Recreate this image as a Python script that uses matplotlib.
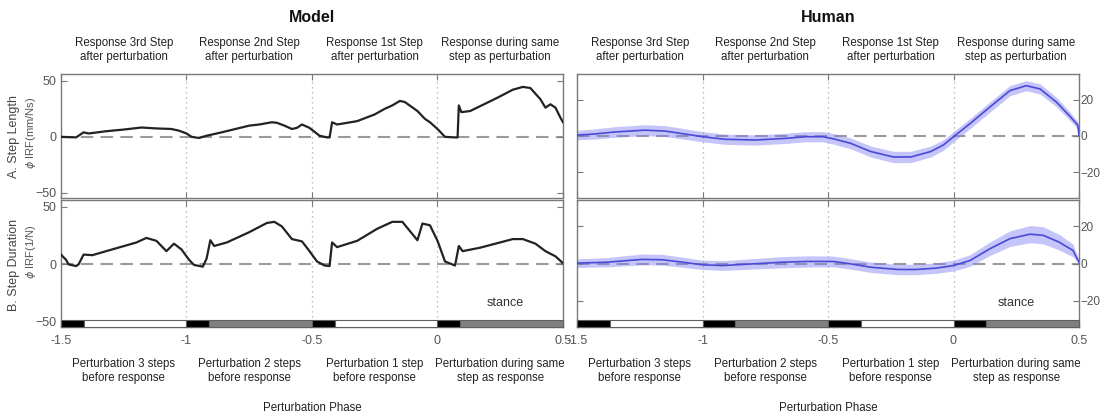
import numpy as np
import matplotlib
matplotlib.use("Agg")
import matplotlib.pyplot as plt
import matplotlib.transforms as mtransforms

plt.rcParams['font.family'] = ['Liberation Sans', 'DejaVu Sans']

# Model, A. Step Length
model_len_x = [-1.5, -1.44, -1.41, -1.39, -1.32, -1.25, -1.18, -1.12, -1.06, -1.03, -1.0, -0.98,
               -0.95, -0.92, -0.86, -0.75, -0.71, -0.66, -0.64, -0.61, -0.58, -0.56, -0.54,
               -0.51, -0.49, -0.47, -0.44, -0.43, -0.42, -0.40, -0.32, -0.25, -0.21, -0.18,
               -0.15, -0.13, -0.08, -0.05, -0.03, 0.0, 0.03, 0.07, 0.08, 0.085, 0.095, 0.13,
               0.24, 0.30, 0.34, 0.37, 0.41, 0.43, 0.45, 0.47, 0.49, 0.5]
model_len_y = [0, -0.5, 4, 3, 5, 6.5, 8.3, 7.5, 7, 5.5, 3, 0,
               -1, 1, 4, 10, 11, 13, 12.5, 10, 7, 8, 11,
               8, 4.5, 1, -0.5, -0.5, 13, 11, 14, 20, 25, 28,
               32, 31, 23, 16, 13, 7, 0, -0.5, -0.5, 28, 22, 23,
               35, 42, 44.5, 43.5, 33.5, 26, 29, 26, 17, 13]

# Model, B. Step Duration
model_dur_x = [-1.5, -1.48, -1.47, -1.44, -1.43, -1.41, -1.375, -1.32, -1.2, -1.16, -1.12, -1.08,
               -1.05, -1.02, -0.99, -0.97, -0.935, -0.92, -0.905, -0.89, -0.84, -0.75, -0.68,
               -0.65, -0.62, -0.58, -0.54, -0.51, -0.48, -0.45, -0.43, -0.42, -0.40, -0.32,
               -0.24, -0.18, -0.14, -0.08, -0.06, -0.03, 0.0, 0.03, 0.07, 0.085, 0.10, 0.17,
               0.30, 0.34, 0.39, 0.43, 0.47, 0.5]
model_dur_y = [8.5, 4, 0, -1.5, 0, 8.5, 8, 11.5, 19, 23, 20.5, 11.5,
               18, 13, 4, -0.5, -2, 5, 21, 16, 19, 28, 36,
               37, 33, 22, 20, 11.5, 2.5, -1, -1.5, 19, 15, 20.5,
               31, 37, 37, 21, 35.5, 34, 20.5, 2.5, -1, 16, 11.5, 14.5,
               22, 22, 18, 11.5, 7, 1]

# Human, A. Step Length (mean and band half width)
human_len_x = [-1.5, -1.43, -1.35, -1.23, -1.15, -1.07, -1.0, -0.91, -0.79, -0.67, -0.59, -0.52,
               -0.48, -0.41, -0.33, -0.24, -0.17, -0.09, -0.04, 0.0, 0.066, 0.145, 0.225, 0.29,
               0.345, 0.41, 0.46, 0.495, 0.5]
human_len_y = [0.5, 1.1, 2.2, 3.2, 2.7, 1.1, -0.4, -1.8, -2.2, -1.3, -0.4, -0.4,
               -1.5, -4, -8.5, -11.5, -11.5, -8.5, -4.9, -0.4, 6.8, 15.9, 24.9, 27.6,
               25.8, 18.6, 11.4, 6, 0.5]
human_len_err = [2.6, 2.8, 2.9, 3.0, 3.0, 2.9, 2.8, 2.8, 2.8, 2.8, 2.8, 2.8,
                 2.9, 3.0, 3.0, 3.1, 3.1, 3.0, 2.9, 2.8, 2.8, 2.8, 2.8, 2.8,
                 2.8, 2.6, 2.4, 2.0, 0.8]

# Human, B. Step Duration
human_dur_x = [-1.5, -1.38, -1.24, -1.16, -1.08, -1.0, -0.92, -0.80, -0.68, -0.58, -0.48, -0.41,
               -0.33, -0.22, -0.15, -0.07, 0.0, 0.066, 0.145, 0.225, 0.305, 0.357, 0.42, 0.476,
               0.5]
human_dur_y = [0.2, 0.7, 2.2, 2.0, 0.7, -0.7, -1.1, -0.2, 0.7, 1.1, 1.1, -0.2,
               -2, -3.2, -3.2, -2.5, -1.1, 1.6, 7.9, 13.3, 15.7, 15.1, 11.5, 7,
               0.7]
human_dur_err = [2.3, 2.5, 2.9, 2.9, 2.7, 2.5, 2.6, 2.8, 3.0, 3.0, 2.9, 2.8,
                 2.8, 2.8, 2.8, 2.8, 2.9, 3.1, 3.6, 4.2, 4.6, 4.6, 4.2, 3.4,
                 1.0]

# gait phase bar segments: (start, end, colour)
model_bar = [(-1.5, -1.41, 'black'), (-1.41, -1.0, 'white'),
             (-1.0, -0.91, 'black'), (-0.91, -0.5, '#808080'),
             (-0.5, -0.41, 'black'), (-0.41, 0.0, 'white'),
             (0.0, 0.09, 'black'), (0.09, 0.5, '#808080')]
human_bar = [(-1.5, -1.37, 'black'), (-1.37, -1.0, 'white'),
             (-1.0, -0.87, 'black'), (-0.87, -0.5, '#808080'),
             (-0.5, -0.37, 'black'), (-0.37, 0.0, 'white'),
             (0.0, 0.13, 'black'), (0.13, 0.5, '#808080')]

xticks = [-1.5, -1, -0.5, 0, 0.5]
xticklabels = ['-1.5', '-1', '-0.5', '0', '0.5']
seg_centers = [-1.25, -0.75, -0.25, 0.25]
top_labels = ['Response 3rd Step\nafter perturbation', 'Response 2nd Step\nafter perturbation',
              'Response 1st Step\nafter perturbation', 'Response during same\nstep as perturbation']
bottom_labels = ['Perturbation 3 steps\nbefore response', 'Perturbation 2 steps\nbefore response',
                 'Perturbation 1 step\nbefore response', 'Perturbation during same\nstep as response']

W, H = 1102, 418
fig = plt.figure(figsize=(W / 100, H / 100), dpi=100)

def px_axes(x0, x1, y0, y1):
    return fig.add_axes([x0 / W, 1 - y1 / H, (x1 - x0) / W, (y1 - y0) / H])

spine_c = '#7a7a7a'
tick_c = '#555555'

def style(ax, right=False, labels=True):
    ax.set_xlim(-1.5, 0.5)
    ax.set_xticks(xticks)
    ax.set_xticklabels(xticklabels if labels else [])
    for s in ax.spines.values():
        s.set_color(spine_c)
        s.set_linewidth(1.0)
    ax.tick_params(direction='in', length=4, color=spine_c, labelcolor=tick_c,
                   labelsize=9, top=True, right=True, left=True, bottom=True, pad=6)
    ax.tick_params(axis='y', pad=3)
    if right:
        ax.tick_params(axis='y', labelleft=False, labelright=True, pad=1, labelsize=8.5)
    for xv in [-1, -0.5, 0]:
        ax.axvline(xv, color='#a8a8a8', lw=0.9, ls=(0, (1, 3)), zorder=1)
    ax.axhline(0, color='#9a9a9a', lw=1.5, dashes=(6, 3.5), zorder=1)

def draw_bar(ax, segs):
    tr = ax.get_xaxis_transform()
    for a, b, c in segs:
        ax.add_patch(plt.Rectangle((a, 0.0), b - a, 0.055, transform=tr,
                                   facecolor=c, edgecolor='#606060', lw=0.8,
                                   zorder=5, clip_on=False))

# Model panels
axA = px_axes(61, 563, 74, 198)
axB = px_axes(61, 563, 200, 327)
# Human panels
axC = px_axes(577, 1079, 74, 198)
axD = px_axes(577, 1079, 200, 327)

for ax in (axA, axB):
    ax.set_ylim(-54.5, 56)
    ax.set_yticks([-50, 0, 50])
for ax in (axC, axD):
    ax.set_ylim(-34, 34)
    ax.set_yticks([-20, 0, 20])

style(axA, labels=False)
style(axB)
style(axC, right=True, labels=False)
style(axD, right=True)

line_c = '#222222'
axA.plot(model_len_x, model_len_y, color=line_c, lw=1.6, zorder=3)
axB.plot(model_dur_x, model_dur_y, color=line_c, lw=1.6, zorder=3)

blue = '#4a4ad6'
band = '#8080f5'
for ax, x, y, e in ((axC, human_len_x, human_len_y, human_len_err),
                    (axD, human_dur_x, human_dur_y, human_dur_err)):
    y = np.array(y)
    e = np.array(e)
    ax.fill_between(x, y - e, y + e, color=band, alpha=0.45, lw=0, zorder=2)
    ax.plot(x, y, color=blue, lw=1.2, zorder=3)

draw_bar(axB, model_bar)
draw_bar(axD, human_bar)

axB.text(0.27, -34, 'stance', ha='center', va='center', fontsize=9, color='#333333')
axD.text(0.25, -21, 'stance', ha='center', va='center', fontsize=9, color='#333333')

# column titles and segment labels
for ax, title in ((axA, 'Model'), (axC, 'Human')):
    tr = mtransforms.blended_transform_factory(ax.transData, fig.transFigure)
    ax.text(-0.5, 1 - 18 / H, title, transform=tr, ha='center', va='center',
            fontsize=11.5, fontweight='bold', color='#111111')
    for xc, lab in zip(seg_centers, top_labels):
        ax.text(xc, 1 - 50 / H, lab, transform=tr, ha='center', va='center',
                fontsize=8.3, color='#222222', linespacing=1.25)

for ax in (axB, axD):
    tr = mtransforms.blended_transform_factory(ax.transData, fig.transFigure)
    for xc, lab in zip(seg_centers, bottom_labels):
        ax.text(xc, 1 - 371 / H, lab, transform=tr, ha='center', va='center',
                fontsize=8.3, color='#222222', linespacing=1.25)
    ax.text(-0.5, 1 - 408 / H, 'Perturbation Phase', transform=tr, ha='center',
            va='center', fontsize=8.3, color='#222222')

# two-line y labels
fig.text(14 / W, 1 - 137 / H, 'A. Step Length', rotation=90, ha='center', va='center',
         fontsize=9, color='#444444')
fig.text(31 / W, 1 - 133 / H, '$\\phi$ IRF(mm/Ns)', rotation=90, ha='center', va='center',
         fontsize=8, color='#555555')
fig.text(14 / W, 1 - 265 / H, 'B. Step Duration', rotation=90, ha='center', va='center',
         fontsize=9, color='#444444')
fig.text(31 / W, 1 - 252 / H, '$\\phi$ IRF(1/N)', rotation=90, ha='center', va='center',
         fontsize=8, color='#555555')

fig.savefig('out.png', dpi=100)
